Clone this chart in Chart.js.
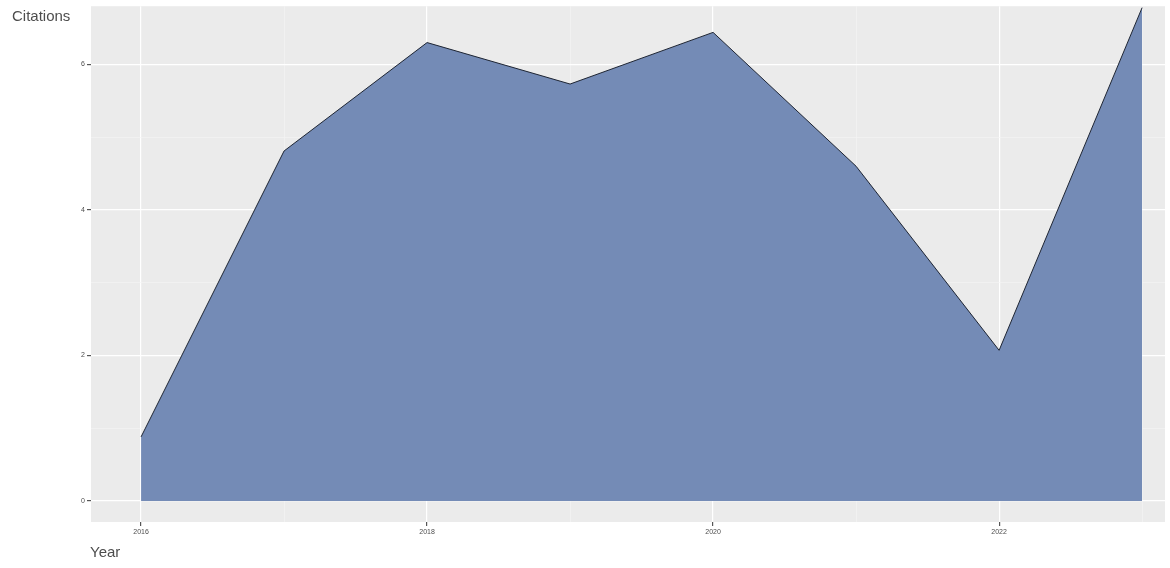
<!DOCTYPE html>
<html>
<head>
<meta charset="utf-8">
<script src="https://cdn.jsdelivr.net/npm/chart.js@4/dist/chart.umd.min.js"></script>
<style>
  html, body { margin: 0; padding: 0; background: #fff; }
  #wrap { position: relative; width: 1170px; height: 568px; }
  .axis-title { position: absolute; font-family: "Liberation Sans", Arial, sans-serif; font-size: 15px; color: #4d4d4d; }
</style>
</head>
<body>
<div id="wrap">
  <canvas id="c" width="1170" height="568"></canvas>
  <div class="axis-title" style="left:12px;top:7px">Citations</div>
  <div class="axis-title" style="left:90px;top:543px">Year</div>
</div>
<script>
// Citations per year
const years = [2016, 2017, 2018, 2019, 2020, 2021, 2022, 2023];
const citations = [0.88, 4.81, 6.30, 5.73, 6.44, 4.60, 2.07, 6.78];
const xTickLabels = [2016, 2018, 2020, 2022];
const yTickLabels = [0, 2, 4, 6];

const panelBg = {
  id: 'panelBg',
  beforeDraw(chart) {
    const { ctx, chartArea: a } = chart;
    ctx.save();
    ctx.fillStyle = '#ebebeb';
    ctx.fillRect(a.left, a.top, a.right - a.left, a.bottom - a.top);
    ctx.restore();
  }
};

const isMajor = (v, list) => list.includes(v);

new Chart(document.getElementById('c'), {
  type: 'line',
  data: {
    datasets: [{
      data: years.map((y, i) => ({ x: y, y: citations[i] })),
      fill: 'origin',
      backgroundColor: '#748bb6',
      borderColor: '#1e2533',
      borderWidth: 1,
      pointRadius: 0,
      tension: 0
    }]
  },
  options: {
    responsive: false,
    animation: false,
    layout: { padding: { left: 77, right: 5, top: 5, bottom: 28 } },
    plugins: { legend: { display: false }, tooltip: { enabled: false } },
    scales: {
      x: {
        type: 'linear', min: 2015.65, max: 2023.16,
        afterFit: s => { s.height = 18; },
        afterBuildTicks: s => { s.ticks = [2016,2017,2018,2019,2020,2021,2022,2023].map(v => ({ value: v })); },
        border: { display: false },
        grid: {
          color: c => c.tick && isMajor(c.tick.value, xTickLabels) ? '#ffffff' : '#f5f5f5',
          lineWidth: c => c.tick && isMajor(c.tick.value, xTickLabels) ? 1.2 : 0.6,
          tickColor: c => c.tick && isMajor(c.tick.value, xTickLabels) ? '#555' : 'rgba(0,0,0,0)',
          tickLength: 4, drawOnChartArea: true
        },
        ticks: {
          autoSkip: false, maxRotation: 0, padding: 2,
          color: '#4d4d4d', font: { family: 'Liberation Sans, Arial, sans-serif', size: 7 },
          callback: v => isMajor(v, xTickLabels) ? String(v) : ''
        }
      },
      y: {
        type: 'linear', min: -0.29, max: 6.8,
        afterFit: s => { s.width = 14; },
        afterBuildTicks: s => { s.ticks = [0,1,2,3,4,5,6].map(v => ({ value: v })); },
        border: { display: false },
        grid: {
          color: c => c.tick && isMajor(c.tick.value, yTickLabels) ? '#ffffff' : '#f5f5f5',
          lineWidth: c => c.tick && isMajor(c.tick.value, yTickLabels) ? 1.2 : 0.6,
          tickColor: c => c.tick && isMajor(c.tick.value, yTickLabels) ? '#555' : 'rgba(0,0,0,0)',
          tickLength: 4
        },
        ticks: {
          autoSkip: false, padding: 2,
          color: '#4d4d4d', font: { family: 'Liberation Sans, Arial, sans-serif', size: 7 },
          callback: v => isMajor(v, yTickLabels) ? String(v) : ''
        }
      }
    }
  },
  plugins: [panelBg]
});
</script>
</body>
</html>
